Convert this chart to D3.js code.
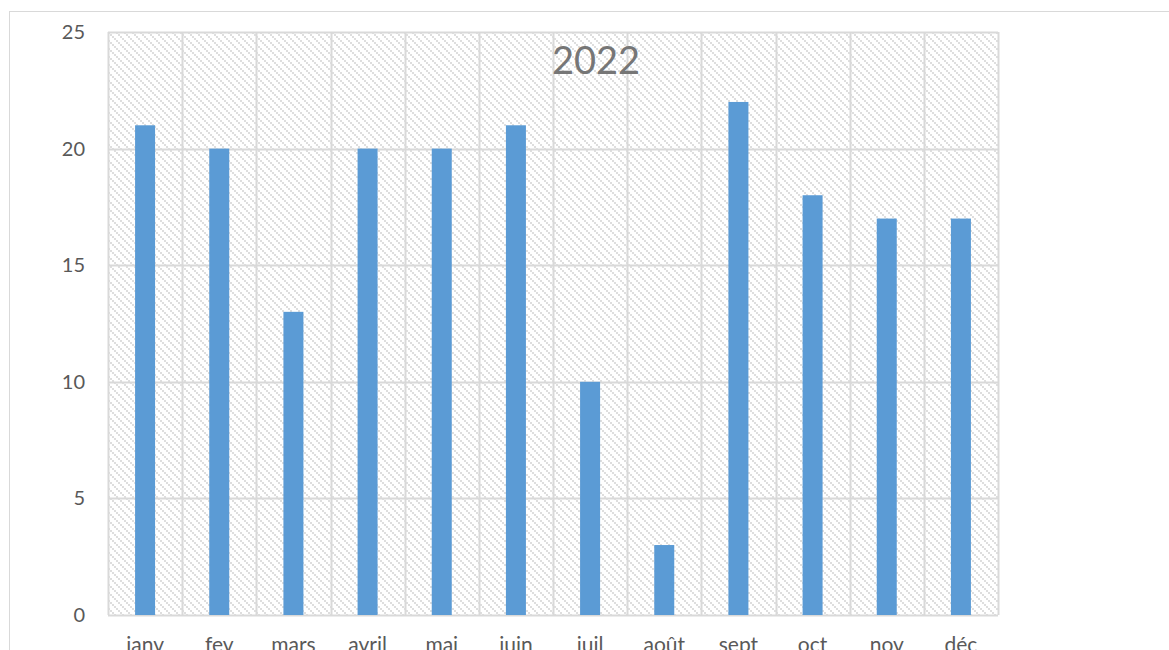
<!DOCTYPE html>
<html>
<head>
<meta charset="utf-8">
<script src="https://cdn.jsdelivr.net/npm/d3@7"></script>
<style>
  body { margin: 0; background: #fff; }
  text { font-family: Lato, "Open Sans", sans-serif; }
</style>
</head>
<body>
<div id="chart"></div>
<script>
// data
var months = ['janv', 'fev', 'mars', 'avril', 'mai', 'juin', 'juil', 'août', 'sept', 'oct', 'nov', 'déc'];
var values = [21, 20, 13, 20, 20, 21, 10, 3, 22, 18, 17, 17];
var yTicks = [0, 5, 10, 15, 20, 25];
var title = '2022';

var W = 1169, H = 650;
var margin = {top: 32, right: 171, bottom: 35, left: 108};
var width = W - margin.left - margin.right,
    height = H - margin.top - margin.bottom;

var svg = d3.select('#chart').append('svg')
    .attr('width', W)
    .attr('height', H);

// hatch pattern for plot area
var defs = svg.append('defs');
var pat = defs.append('pattern')
    .attr('id', 'hatch')
    .attr('patternUnits', 'userSpaceOnUse')
    .attr('width', 8)
    .attr('height', 8);
[0, 2, 4, 6].forEach(function(k) {
  pat.append('rect').attr('x', k).attr('y', k).attr('width', 2).attr('height', 2).attr('fill', '#dedede');
});

// outer chart frame
svg.append('rect')
    .attr('x', 9.5).attr('y', 11.5)
    .attr('width', W + 20).attr('height', H + 20)
    .attr('fill', 'none')
    .attr('stroke', '#d9d9d9');

var g = svg.append('g')
    .attr('transform', 'translate(' + margin.left + ',' + margin.top + ')');

var x = d3.scaleBand().domain(months).range([0, width]).paddingInner(0).paddingOuter(0);
var y = d3.scaleLinear().domain([0, 25]).range([height, 0]);

g.append('rect')
    .attr('width', width).attr('height', height)
    .attr('fill', 'url(#hatch)');

// grid
g.selectAll('.hgrid').data(yTicks).enter().append('line')
    .attr('x1', 0).attr('x2', width)
    .attr('y1', function(d) { return Math.round(y(d)) + 0.5; })
    .attr('y2', function(d) { return Math.round(y(d)) + 0.5; })
    .attr('stroke', '#d9d9d9').attr('stroke-width', 2);

g.selectAll('.vgrid').data(months.concat(['end'])).enter().append('line')
    .attr('x1', function(d, i) { return Math.round(i * x.step()) + 0.5; })
    .attr('x2', function(d, i) { return Math.round(i * x.step()) + 0.5; })
    .attr('y1', 0).attr('y2', height)
    .attr('stroke', '#d9d9d9').attr('stroke-width', 2);

// bars
var barW = 20;
g.selectAll('.bar').data(values).enter().append('rect')
    .attr('class', 'bar')
    .attr('x', function(d, i) { return x(months[i]) + x.bandwidth() / 2 - barW / 2; })
    .attr('y', function(d) { return y(d); })
    .attr('width', barW)
    .attr('height', function(d) { return height - y(d); })
    .attr('fill', '#5b9bd5');

// axes
var yAxis = g.append('g').call(d3.axisLeft(y).tickValues(yTicks).tickSize(0).tickPadding(23));
yAxis.select('.domain').remove();
yAxis.selectAll('text').style('font-size', '20px').attr('fill', '#595959');

// x labels sit partly below the window edge, as in the reference
var xAxis = g.append('g')
    .attr('transform', 'translate(0,' + height + ')')
    .call(d3.axisBottom(x).tickSize(0).tickPadding(22));
xAxis.select('.domain').remove();
xAxis.selectAll('text').style('font-size', '21px').attr('fill', '#595959');

// title
svg.append('text')
    .attr('x', 596).attr('y', 74)
    .attr('text-anchor', 'middle')
    .style('font-size', '38px')
    .attr('fill', '#767676')
    .text(title);
</script>
</body>
</html>
